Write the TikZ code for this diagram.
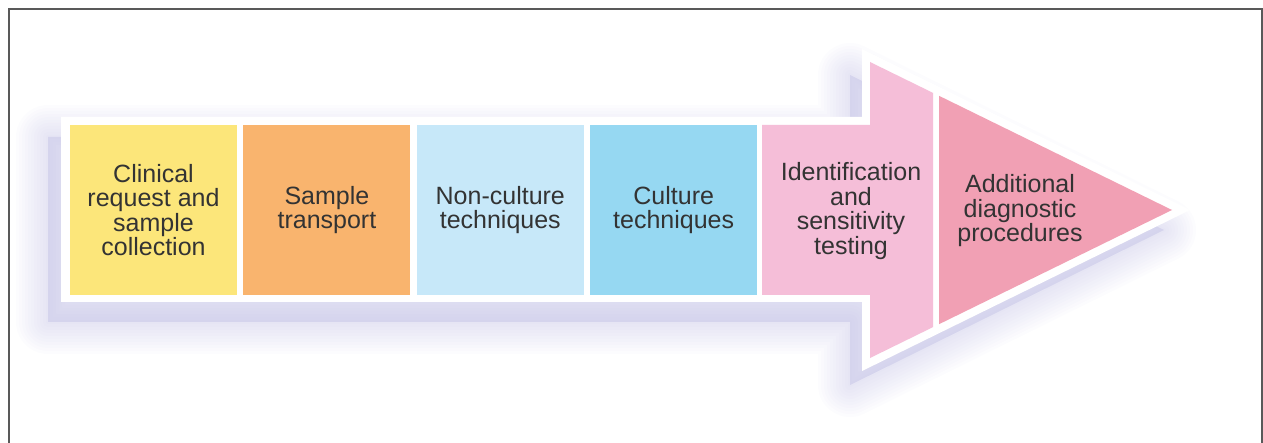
\documentclass[tikz,border=0pt]{standalone}
\usepackage{fontspec}
\setmainfont{Liberation Sans}
\usetikzlibrary{positioning}
\definecolor{cyellow}{RGB}{252,230,122}
\definecolor{corange}{RGB}{249,180,110}
\definecolor{clight}{RGB}{199,232,249}
\definecolor{cblue}{RGB}{150,216,242}
\definecolor{cpink}{RGB}{245,190,216}
\definecolor{cdeep}{RGB}{241,160,180}
\definecolor{cshadow}{RGB}{178,176,222}
\begin{document}
\begin{tikzpicture}
	[x=1pt, y=-1pt,
	node distance=6pt,
	box/.style = {minimum width=167pt, minimum height=170pt, inner sep=0pt, align=center, text=black!80, font=\fontsize{25}{24.5}\selectfont},
	steptext/.style = {inner sep=0pt, align=center, text=black!80, font=\fontsize{25}{24.5}\selectfont}]
\useasboundingbox (0,0) rectangle (1263,443);
% soft shadow
\foreach \w in {64,58,...,4}
	\filldraw[cshadow, line width=\w pt, line join=round, opacity=0.035, shift={(-16,20)}]
		(64,117) -- (866,117) -- (866,55) -- (1180,210) -- (866,365) -- (866,302) -- (64,302) -- cycle;
\fill[white] (61,117) -- (862,117) -- (862,49) -- (1190,210) -- (862,371) -- (862,302) -- (61,302) -- cycle;
\node[box, fill=cyellow] (clin) at (153.5,210) {Clinical\\request and\\sample\\collection};
\node[box, fill=corange] (trans) [right=of clin] {Sample\\transport};
\node[box, fill=clight] (nonc) [right=of trans] {Non-culture\\techniques};
\node[box, fill=cblue] (cult) [right=of nonc] {Culture\\techniques};
\fill[cpink] (762,125) -- (870,125) -- (870,62) -- (933,92.9) -- (933,327.1) -- (870,358) -- (870,295) -- (762,295) -- cycle;
\fill[cdeep] (939,95.8) -- (1172,210) -- (939,324.2) -- cycle;
\node[steptext] (ident) at (851,211) {Identification\\and\\sensitivity\\testing};
\node[steptext] (addit) at (1020,211) {Additional\\diagnostic\\procedures};
\draw[black!65, line width=1.6pt] (8.7,443) |- (1261.7,9.3) -- (1261.7,443);
\end{tikzpicture}
\end{document}
